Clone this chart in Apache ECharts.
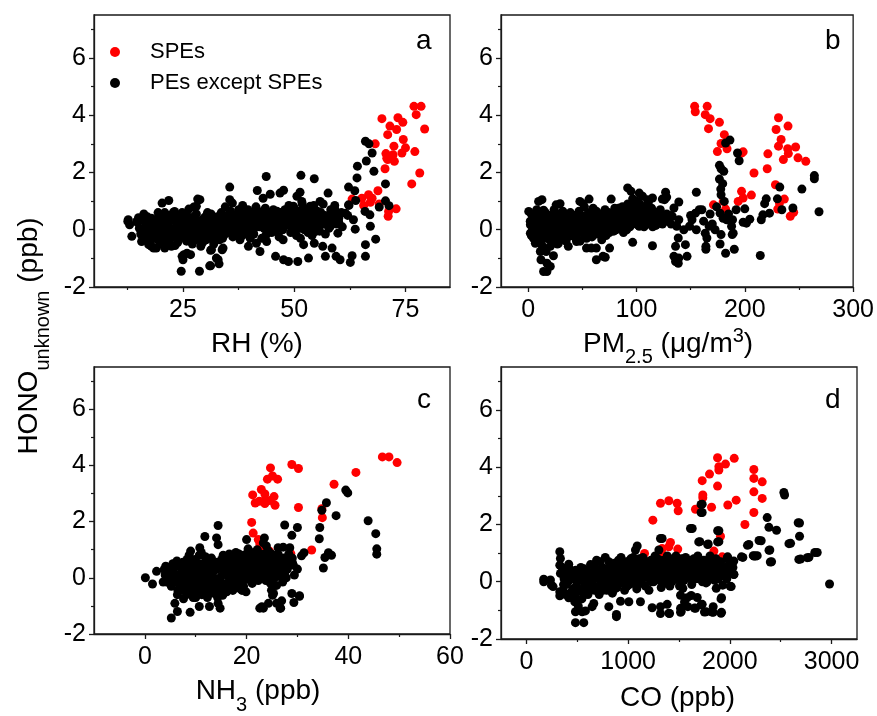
<!DOCTYPE html>
<html>
<head>
<meta charset="utf-8">
<script src="https://cdn.jsdelivr.net/npm/echarts@6/dist/echarts.min.js"></script>
<style>html,body{margin:0;padding:0;background:#fff}#c{width:877px;height:716px}</style>
</head>
<body>
<div id="c"></div>
<script>
// ---------- tick values ----------
const yTicks = [-2, 0, 2, 4, 6];
const yMinor = [-1, 1, 3, 5, 7];
const rhTicks = [25, 50, 75];
const rhMinor = [12.5, 37.5, 62.5];
const pmTicks = [0, 100, 200, 300];
const pmMinor = [50, 150, 250];
const nh3Ticks = [0, 20, 40, 60];
const nh3Minor = [10, 30, 50];
const coTicks = [0, 1000, 2000, 3000];
const coMinor = [500, 1500, 2500];
const seriesNames = ['SPEs', 'PEs except SPEs'];
const panelLetters = ['a', 'b', 'c', 'd'];

// ---------- panel a : RH (%) ----------
const rhSPE = [[76.9,4.31],[78.5,4.31],[77.4,4.02],[79.3,3.52],[69.7,3.88],[73.3,3.91],[74.4,3.75],[71.5,3.62],[73.0,3.50],[71.0,3.32],[74.5,3.15],[68.2,3.0],[72.4,2.92],[75.0,2.86],[74.2,2.68],[70.6,2.66],[72.2,2.62],[70.8,2.5],[72.5,2.39],[77.1,2.73],[70.4,2.13],[78.2,1.98],[76.4,1.6],[68.8,1.36],[66.7,1.22],[67.5,1.1],[65.2,1.1],[63.0,1.07],[67.1,0.96],[65.6,0.85],[69.1,0.9],[71.2,0.64],[71.1,0.47],[72.9,0.73],[71.0,2.45]];
const rhPE = [[43.7,1.86],[35.5,1.49],[41.7,1.37],[44.6,1.24],[43.0,1.1],[21.8,1.02],[20.3,0.93],[28.3,1.07],[27.4,0.79],[26.3,0.72],[35.5,1.05],[36.1,0.93],[12.7,0.35],[13.0,0.17],[14.6,0.29],[13.5,-0.23],[15.7,-0.41],[17.3,-0.52],[18.4,-0.64],[24.6,-1.45],[28.7,-1.45],[31.2,-1.26],[33.1,-1.19],[25.0,-1.05],[25.2,-0.87],[26.7,-0.87],[31.2,-0.72],[33.8,-0.70],[32.5,-0.99],
[51.5,1.9],[54.5,1.78],[47.6,1.38],[46.8,1.28],[51.3,1.31],[57.6,1.28],[62.2,1.49],[63.6,1.36],[64.1,1.81],[64.2,2.22],[66.2,2.4],[67.5,2.68],[66.0,3.09],[66.8,3.0],[67.9,2.04],[70.5,1.6],[70.5,1.01],[71.3,0.84],[69.1,0.79],[62.2,0.87],[63.8,1.02],[65.9,0.64],[67.0,0.52],[67.1,0.12],[68.3,-0.33],[66.0,-0.52],[66.0,-0.93],[62.6,-1.14],[63.0,-0.91],[60.3,-1.05],[59.4,-0.93],[57.0,-0.93],[58.5,-0.64],[56.4,-0.58],[54.5,-0.47],[53.2,-0.99],[50.8,-1.11],[48.7,-1.11],[47.6,-1.05],[45.8,-0.93],[52.1,-0.52],[59.8,-0.12],[63.7,0.02],[63.3,0.35],[59.1,0.72],[61.5,0.58],[60.0,0.26],[58.1,0.12],[54.7,-0.06],[55.5,0.35],[53.6,0.82],[55.8,0.99],[51.7,0.99],[49.8,0.82],[50.6,1.17],[28.8,1.05],[28.0,0.82],[23.1,0.64],[24.6,0.29],[12.6,0.29],[16.0,-0.35],[17.9,-0.58],[19.0,-0.64],[20.9,-0.64],[22.4,-0.58],[24.8,-0.93],[31.0,-1.26],[32.9,-1.05],[31.4,-0.7],[34.0,-0.64],[25.9,-0.82],[29.0,-0.58],[37.8,-0.35],[39.7,-0.58],[42.3,-0.76],[41.5,-0.47],[43.8,-0.41],
[15.2,0.05],[15.0,0.42],[15.5,-0.15],[14.8,0.25],[16.4,-0.3],[16.6,0.1],[16.2,0.55],[16.8,-0.05],[16.3,0.3],[17.8,0.2],[17.6,-0.45],[18.1,0.0],[17.9,0.4],[18.2,-0.2],[19.1,0.1],[19.3,-0.35],[18.9,0.35],[19.4,0.6],[19.0,-0.1],[20.3,-0.5],[20.5,0.0],[20.1,0.25],[20.6,0.45],[20.2,-0.25],[21.7,0.15],[21.5,-0.4],[21.9,0.5],[21.6,-0.1],[22.0,0.3],[22.9,-0.2],[23.1,0.05],[22.7,0.35],[23.2,-0.55],[22.8,0.6],[24.2,0.1],[24.0,-0.3],[24.4,0.45],[24.1,-0.1],[24.5,0.25],[25.6,-0.15],[25.4,0.2],[25.8,-0.4],[25.5,0.05],[25.9,0.5],[26.8,0.0],[27.0,-0.25],[26.6,0.3],[27.1,-0.5],[26.9,0.15],[28.1,0.25],[28.3,-0.1],[27.9,-0.35],[28.4,0.1],[28.0,0.55],[29.5,-0.2],[29.3,0.05],[29.7,0.4],[29.4,-0.45],[29.8,0.2],[30.7,0.3],[30.9,-0.05],[30.5,0.6],[31.0,-0.3],[30.6,0.1],[32.0,0.15],[32.2,-0.25],[31.8,0.45],[32.3,0.0],[31.9,-0.5],[33.3,0.35],[33.5,-0.1],[33.1,0.1],[33.6,0.6],[33.2,-0.35],[34.6,0.2],[34.8,0.5],[34.4,-0.15],[34.9,0.05],[34.5,0.8],[35.9,0.35],[36.1,0.0],[35.7,0.65],[36.2,-0.25],[35.8,0.15],[37.2,0.45],[37.4,0.1],[37.0,-0.1],[37.5,0.7],[37.1,0.25],[38.5,0.3],[38.7,0.55],[38.3,-0.2],[38.8,0.05],[38.4,0.85],[39.8,0.4],[40.0,0.15],[39.6,0.7],[40.1,-0.3],[39.7,0.0],[41.1,0.25],[41.3,0.5],[40.9,-0.15],[41.4,0.8],[41.0,0.05],[42.4,0.35],[42.6,0.6],[42.2,0.1],[42.7,-0.3],[42.3,0.2],[43.7,0.45],[43.9,0.0],[43.5,0.75],[44.0,0.25],[43.6,-0.2],[45.0,0.3],[45.2,0.55],[44.8,0.1],[45.3,0.7],[44.9,-0.1],[46.3,0.4],[46.5,0.2],[46.1,0.65],[46.6,-0.25],[46.2,0.05],[47.6,0.5],[47.8,0.25],[47.4,0.0],[47.9,0.7],[47.5,-0.35],[48.9,0.35],[49.1,0.6],[48.7,0.15],[49.2,-0.1],[48.8,0.85],[50.2,0.45],[50.4,0.2],[50.0,0.75],[50.5,-0.2],[50.1,0.0],[51.5,0.3],[51.7,0.55],[51.3,0.05],[51.8,0.9],[51.4,-0.3],[52.8,0.4],[53.0,0.15],[52.6,0.7],[53.1,-0.1],[52.7,0.25],[54.1,0.2],[54.3,0.55],[53.9,0.0],[54.4,0.85],[54.0,-0.2],[55.4,0.35],[55.6,0.1],[55.2,0.65],[55.7,-0.05],[56.7,0.2],[56.9,0.5],[56.5,0.9],[57.0,-0.15],[58.0,0.3],[58.2,0.7],[57.8,0.05],[59.3,0.45],[59.5,0.2],[59.1,0.85],[60.6,0.6],[60.8,0.1],[62.0,0.5],[62.3,0.85],
[17.1,0.15],[17.2,-0.3],[17.0,0.45],[18.5,-0.25],[18.6,0.2],[18.4,0.05],[19.8,0.2],[19.9,-0.2],[19.7,0.45],[21.0,-0.05],[21.1,0.35],[21.2,-0.35],[20.9,0.6],[22.3,0.0],[22.4,0.4],[22.2,-0.3],[23.6,-0.15],[23.7,0.2],[23.5,0.5],[23.8,-0.45],[24.9,0.0],[25.0,0.35],[25.1,-0.25],[24.8,0.6],[26.2,-0.3],[26.3,0.1],[26.1,0.4],[27.5,0.05],[27.6,-0.2],[27.4,0.45],[28.8,-0.25],[28.9,0.3],[28.7,0.0],[30.1,0.15],[30.2,-0.35],[30.0,0.45],[31.4,-0.1],[31.5,0.25],[31.3,0.55],[32.7,0.2],[32.6,-0.2],[32.8,0.45],[34.0,0.0],[34.1,0.35],[33.9,-0.3],[35.3,0.45],[35.2,0.1],[35.4,-0.1],[36.6,0.2],[36.5,0.5],[36.7,-0.15],[37.9,0.35],[37.8,0.0],[38.0,0.6],[39.2,0.2],[39.1,0.5],[39.3,-0.1],[40.5,0.35],[40.4,0.6],[40.6,0.05],[41.8,0.15],[41.7,0.4],[41.9,0.65],[43.1,0.3],[43.0,0.55],[43.2,0.05],[44.4,0.4],[44.3,0.15],[44.5,0.6],[45.7,0.2],[45.6,0.5],[45.8,-0.05],[47.0,0.35],[46.9,0.6],[47.1,0.1],[48.3,0.45],[48.2,0.2],[48.4,0.7],[49.6,0.3],[49.5,0.55],[49.7,0.05],[50.9,0.4],[50.8,0.15],[51.0,0.65],[52.2,0.25],[52.1,0.5],[52.3,0.0],[53.5,0.35],[53.4,0.6],[54.8,0.45],[54.7,0.2],[56.1,0.3],[56.0,0.6],[57.4,0.45],[58.7,0.55],[60.0,0.4]];

// ---------- panel b : PM2.5 ----------
const pmSPE = [[153.7,4.31],[154.3,4.12],[165.3,4.31],[163.5,4.02],[168.0,3.88],[166.5,3.53],[176.6,3.75],[181.1,3.32],[178.1,3.01],[183.6,2.83],[174.7,2.73],[197.0,2.68],[198.5,2.72],[208.5,1.98],[231.1,3.91],[228.9,3.5],[239.9,3.62],[233.5,3.15],[231.1,2.92],[239.6,2.83],[240.2,2.66],[235.6,2.45],[246.9,2.89],[249.1,2.51],[256.3,2.39],[221.3,2.65],[220.7,2.13],[228.3,1.57],[206.1,1.21],[197.0,1.34],[193.9,0.99],[198.5,1.11],[236.5,1.07],[232.0,0.93],[230.4,0.72],[242.0,0.47],[245.1,0.61],[171.1,0.87],[182.3,0.72],[180.1,0.99]];
const pmPE = [[268.5,0.63],[264.2,1.89],[264.2,1.78],[252.7,1.42],[232.3,1.49],[234.2,0.7],[244.4,0.76],[230.1,1.08],[214.3,-0.9],[219.8,1.08],[218.3,0.91],[216.7,0.52],[222.8,0.58],[215.2,0.35],[204.6,0.37],[201.5,0.23],[198.5,0.26],[200.0,0.73],[182.3,3.03],[186.3,3.13],[193.3,2.68],[194.8,2.41],[176.6,2.25],[178.1,2.13],[180.6,2.04],[176.6,1.77],[179.6,1.61],[177.8,1.42],[178.1,1.22],[181.1,0.99],[177.2,0.58],[183.3,0.35],[188.7,0.35],[187.8,0.12],[189.3,-0.12],[188.4,-0.17],[190.3,-0.68],[182.3,-0.82],[177.2,-0.5],[178.1,-0.17],[172.6,0.0],[167.1,0.12],[163.5,-0.12],[165.0,-0.29],[164.1,-0.58],[164.1,-0.68],[155.3,1.31],[154.4,0.58],[151.3,0.35],[160.4,0.70],[155.3,0.0],[149.0,0.12],[143.7,0.0],[145.2,-0.52],[146.7,-0.93],[139.1,-0.99],[136.1,-1.11],[134.6,-0.93],[138.6,-1.17],[136.1,-0.58],[138.6,-0.29],[137.2,0.12],[139.1,0.35],[139.1,0.97],[134.6,0.76],[133.0,0.47],[126.9,1.31],[127.9,1.14],[123.9,1.07],[114.8,1.11],[114.8,-0.56],[96.5,-0.44],[91.9,1.46],[95.0,1.34],[102.6,1.28],[105.6,1.17],[110.2,1.05],[96.5,1.08],[84.3,0.76],[76.7,1.07],[69.1,-0.93],[63.0,-1.05],[71.2,-0.96],[58.4,-0.64],[63.0,-0.64],[53.9,-0.64],[75.2,-0.64],[47.8,0.99],[56.3,1.07],[50.8,0.91],[37.1,-0.58],[28.0,-0.47],[25.0,-0.06],[25.9,0.87],[29.5,0.91],[12.8,1.05],[9.7,0.99],[14.3,0.68],[0.6,0.64],[2.1,0.17],[2.1,-0.12],[6.7,-0.03],[6.7,-0.47],[11.3,-0.35],[11.3,-0.76],[11.9,-1.05],[14.3,-1.46],[17.4,-1.46],[20.5,-1.28],[17.4,-1.17],[23.4,-0.91],[16.7,-0.76],[20.5,-0.58],[14.3,-0.21],[5.2,0.35],[9.7,0.21],[34.1,-0.12],[47.8,0.0],[44.7,-0.41],[63.0,-0.12],[81.3,0.0],[88.9,0.0],[102.6,0.12],[114.8,0.23],[120.9,0.47],
[3,-0.2],[2,0.3],[4,0.0],[3,0.55],[7,-0.4],[8,0.1],[6,-0.1],[7,0.45],[8,0.7],[11,0.2],[12,-0.5],[10,0.0],[11,0.5],[12,-0.25],[15,-0.1],[16,0.35],[14,-0.6],[15,0.1],[16,0.6],[19,0.0],[20,-0.35],[18,0.3],[19,-0.15],[20,0.5],[23,0.15],[24,-0.45],[22,0.4],[23,-0.1],[24,0.7],[27,-0.2],[28,0.05],[26,0.35],[27,-0.5],[28,0.55],[31,0.1],[32,-0.3],[30,0.3],[31,0.0],[32,0.65],[35,-0.15],[36,0.2],[34,0.45],[35,-0.4],[36,0.05],[39,0.1],[40,-0.2],[38,0.35],[39,0.6],[40,-0.05],[43,0.25],[44,-0.3],[42,0.0],[43,0.5],[44,0.15],[47,-0.1],[48,0.3],[46,0.05],[47,0.65],[48,-0.4],[51,0.2],[52,-0.2],[50,0.45],[51,0.0],[52,0.8],[55,0.1],[56,0.35],[54,-0.3],[55,0.55],[56,-0.05],[59,0.25],[60,0.0],[58,0.5],[59,-0.25],[60,0.75],[63,0.15],[64,-0.15],[62,0.4],[63,0.65],[64,0.05],[67,0.3],[68,-0.1],[66,0.55],[67,0.1],[68,-0.35],[71,0.2],[72,0.45],[70,0.0],[71,0.7],[72,-0.2],[75,0.35],[76,0.1],[74,0.6],[75,-0.1],[76,0.25],[79,0.15],[80,0.5],[78,0.3],[79,-0.05],[80,0.75],[83,0.4],[84,0.05],[82,0.6],[83,0.2],[87,0.25],[88,0.55],[86,0.1],[87,0.8],[88,-0.1],[91,0.4],[92,0.2],[90,0.65],[91,0.0],[92,0.9],[95,0.3],[96,0.55],[94,0.1],[95,0.8],[96,0.45],[99,0.5],[100,0.2],[98,0.75],[99,0.35],[100,1.0],[103,0.4],[104,0.65],[102,0.15],[103,0.9],[104,0.3],[107,0.55],[108,0.3],[106,0.8],[107,0.1],[108,0.45],[111,0.4],[112,0.7],[110,0.2],[111,0.95],[115,0.5],[116,0.25],[114,0.75],[115,0.1],[119,0.35],[120,0.6],[118,0.15],[123,0.45],[124,0.2],[122,0.7],[127,0.3],[128,0.55],[126,1.05],[131,0.5],[132,0.2],[150,0.5],[158,0.7],[162,0.3],[168,0.55],[174,0.8],[170,0.2],[185,0.55],[192,0.7],[180,0.4],
[5,0.2],[5,-0.3],[9,0.3],[9,-0.2],[13,0.0],[13,0.4],[17,0.15],[17,-0.3],[21,0.2],[21,-0.2],[25,0.0],[25,0.5],[29,0.25],[29,-0.3],[33,0.0],[33,0.45],[37,0.25],[37,-0.25],[41,0.05],[41,0.4],[45,0.3],[45,-0.15],[49,0.1],[49,0.5],[53,0.3],[53,-0.1],[57,0.15],[57,0.6],[61,0.3],[61,-0.1],[65,0.2],[65,0.5],[69,0.35],[69,0.0],[73,0.25],[73,0.6],[77,0.4],[77,0.0],[81,0.25],[81,0.6],[85,0.4],[85,0.1],[89,0.3],[89,0.65],[93,0.5],[93,0.2],[97,0.35],[97,0.65],[101,0.55],[101,0.25],[105,0.45],[105,0.75],[109,0.35],[109,0.6],[113,0.5],[117,0.4],[121,0.55],[125,0.35]];

// ---------- panel c : NH3 ----------
const nh3SPE = [[46.7,4.30],[48.0,4.30],[49.6,4.10],[41.5,3.75],[37.2,3.33],[28.9,4.03],[30.2,3.89],[24.7,3.91],[24.1,3.51],[25.1,3.62],[26.1,3.51],[22.9,3.14],[23.6,2.98],[21.2,2.95],[21.7,2.66],[22.5,2.72],[23.6,2.75],[23.6,2.64],[24.6,2.75],[25.4,2.89],[25.6,2.58],[30.2,2.50],[34.8,2.46],[34.9,2.14],[21.0,1.97],[21.3,1.59],[22.3,1.36],[32.8,0.99],[28.7,0.86],[23.9,0.49],[23.1,1.13],[24.5,0.95],[25.2,0.7],[22.6,1.2]];
const nh3PE = [[0.1,0.0],[1.5,-0.22],[2.3,0.23],[4.1,0.41],[3.6,-0.15],[5.2,-1.43],[6.4,-1.2],[5.9,-0.91],[8.9,-1.23],[10.7,-1.02],[12.7,-1.02],[14.8,-1.08],[14.4,-0.91],[11.8,1.47],[14.4,1.86],[14.1,1.42],[14.4,1.18],[9.0,0.95],[10.8,1.07],[20.0,1.36],[20.3,1.03],[23.5,1.42],[23.3,1.24],[23.9,1.13],[27.5,1.88],[28.9,1.51],[30.0,1.79],[28.5,1.07],[27.2,1.09],[26.2,1.07],[29.0,0.55],[30.0,0.31],[30.8,0.78],[31.3,0.89],[28.9,-0.56],[30.4,-0.64],[29.3,-0.88],[26.9,-0.82],[26.7,-1.08],[25.9,-0.91],[25.1,-0.62],[24.3,-0.91],[23.3,-1.08],[22.6,-1.08],[25.9,-0.27],[24.9,-0.44],[19.9,-0.5],[18.7,-0.38],[15.3,-0.62],[14.1,-0.56],[35.1,0.35],[35.4,0.72],[36.1,0.89],[36.7,0.8],[34.3,1.39],[34.4,1.79],[34.8,2.4],[35.7,2.67],[37.6,2.21],[39.5,3.12],[39.9,3.02],[43.9,2.03],[45.4,1.57],[45.6,1.03],[45.6,0.84],[23.0,-1.03],[26.6,-1.08],[30.4,-0.66],[25.3,-0.56],
[4.0,0.1],[4.3,-0.15],[3.8,0.3],[5.2,-0.3],[5.4,0.0],[5.0,0.25],[5.5,0.5],[6.4,-0.6],[6.6,-0.2],[6.2,0.1],[6.7,0.4],[6.3,0.6],[6.5,-0.45],[7.6,-0.75],[7.8,-0.35],[7.4,0.0],[7.9,0.3],[7.5,0.55],[7.7,-0.1],[8.8,-0.5],[9.0,-0.15],[8.6,0.2],[9.1,0.45],[8.7,0.8],[8.9,0.05],[10.0,-0.7],[10.2,-0.3],[9.8,0.0],[10.3,0.35],[9.9,0.65],[10.1,0.15],[10.0,-0.5],[11.2,-0.6],[11.4,-0.2],[11.0,0.1],[11.5,0.4],[11.1,0.9],[11.3,-0.4],[11.2,0.25],[12.4,-0.35],[12.6,0.0],[12.2,0.3],[12.7,0.6],[12.3,-0.7],[12.5,0.15],[13.6,-0.55],[13.8,-0.15],[13.4,0.2],[13.9,0.5],[13.5,0.0],[13.7,-0.3],[14.8,-0.4],[15.0,0.05],[14.6,0.35],[15.1,0.65],[14.7,-0.15],[16.0,-0.3],[16.2,0.1],[15.8,0.4],[16.3,0.2],[15.9,0.6],[16.1,-0.5],[17.2,-0.2],[17.4,0.25],[17.0,0.5],[17.5,0.0],[17.1,0.75],[17.3,-0.45],[18.4,0.1],[18.6,0.4],[18.2,-0.1],[18.7,0.65],[18.3,0.25],[18.5,0.85],[19.6,0.2],[19.8,0.5],[19.4,-0.3],[19.9,0.0],[19.5,0.8],[19.7,0.35],[20.8,0.3],[21.0,0.05],[20.6,0.6],[21.1,-0.2],[20.7,0.45],[20.9,0.9],[22.0,0.15],[22.2,0.5],[21.8,0.75],[22.3,-0.1],[21.9,0.3],[22.1,1.0],[23.2,0.25],[23.4,0.6],[23.0,0.0],[23.5,0.85],[23.1,0.4],[24.4,0.35],[24.6,0.05],[24.2,0.7],[24.7,-0.2],[24.3,0.95],[25.6,0.2],[25.8,0.55],[25.4,0.0],[25.9,0.8],[25.5,0.35],[26.8,0.4],[27.0,0.1],[26.6,0.65],[27.1,-0.15],[26.7,0.25],[28.0,0.3],[28.2,0.6],[27.8,0.0],[28.3,0.85],[29.2,0.45],[29.4,0.1],[29.0,0.7],
[5.8,0.15],[5.9,-0.1],[5.7,0.4],[7.0,-0.45],[7.1,0.15],[7.0,0.4],[6.9,-0.1],[8.2,-0.6],[8.3,-0.25],[8.1,0.1],[8.2,0.4],[8.3,0.65],[9.4,-0.4],[9.5,-0.05],[9.3,0.3],[9.4,0.6],[9.5,-0.7],[10.6,-0.5],[10.7,-0.15],[10.5,0.2],[10.6,0.5],[10.7,0.8],[11.8,-0.45],[11.9,-0.05],[11.7,0.2],[11.8,0.55],[11.9,0.75],[13.0,-0.5],[13.1,-0.2],[12.9,0.1],[13.0,0.4],[13.1,0.7],[14.2,-0.4],[14.3,-0.05],[14.1,0.3],[14.2,0.55],[14.3,-0.7],[15.4,-0.2],[15.5,0.15],[15.3,0.5],[15.4,0.8],[15.5,-0.55],[16.6,-0.1],[16.7,0.3],[16.5,0.55],[16.6,0.85],[16.7,-0.35],[17.8,0.05],[17.9,0.35],[17.7,0.6],[17.8,-0.3],[17.9,0.9],[19.0,0.15],[19.1,0.45],[18.9,0.7],[19.0,-0.15],[19.1,-0.45],[20.2,0.1],[20.3,0.4],[20.1,0.7],[20.2,-0.05],[20.3,0.95],[21.4,0.2],[21.5,0.5],[21.3,0.75],[21.4,-0.05],[22.6,0.3],[22.7,0.6],[22.5,0.05],[22.6,0.85],[23.8,0.15],[23.9,0.5],[23.7,0.75],[23.8,-0.1],[25.0,0.25],[25.1,0.55],[24.9,0.85],[25.0,0.0],[26.2,0.3],[26.3,0.6],[26.1,0.05],[26.2,0.85],[27.4,0.45],[27.5,0.2],[27.3,0.7]];

// ---------- panel d : CO ----------
const coSPE = [[1879,4.33],[2043,4.31],[1957,4.11],[1892,4.02],[1892,3.9],[1800,3.76],[2236,3.92],[2236,3.61],[2318,3.49],[1728,3.53],[1879,3.34],[2236,3.14],[2318,2.91],[1734,3.03],[1734,2.93],[1318,2.74],[1400,2.83],[1482,2.74],[1492,2.48],[1662,2.53],[1820,2.6],[1980,2.68],[2062,2.85],[2236,2.42],[2148,2.0],[1243,2.15],[1908,1.59],[1161,0.99],[1416,1.37],[1400,1.22],[1488,1.14],[1334,0.95],[1334,1.16],[1843,1.07],[1675,0.61],[1675,0.47],[1925,0.87],[1652,0.6]];
const coPE = [[2980,-0.08],[2531,3.12],[2538,3.03],[2685,2.05],[2685,1.59],[2695,0.79],[2777,0.85],[2859,1.02],[2597,1.34],[2459,1.80],[2384,1.9],[2367,2.24],[2308,1.43],[2393,1.11],[2410,0.70],[2230,0.91],[2269,0.91],[2187,1.30],[2128,0.85],[1728,2.71],[1728,2.42],[1630,1.86],[1892,1.78],[1892,1.40],[1705,1.40],[1787,1.32],[1318,1.51],[1334,1.51],[1302,1.11],[1089,1.25],[1072,1.11],[328,1.05],[334,0.81],[328,0.58],[416,0.61],[334,0.29],[328,-0.35],[328,-0.49],[416,-0.56],[170,0.09],[170,0.0],[236,0.06],[246,-0.12],[262,-0.17],[482,-1.05],[482,-1.43],[564,-1.43],[548,-1.05],[580,-1.02],[646,-0.87],[662,-0.76],[810,-0.87],[885,-1.22],[885,-1.14],[925,-0.68],[1007,-0.70],[1121,-0.70],[1236,-0.91],[1318,-0.87],[1318,-1.11],[1407,-1.11],[1384,-0.79],[1515,-1.07],[1515,-0.93],[1587,-0.87],[1662,-0.93],[1728,-0.79],[1767,-1.05],[1836,-1.07],[1918,-1.07],[1836,-0.87],[1918,-0.56],[1679,-0.55],[1580,-0.56],[1515,-0.47],[1538,-0.23],[1777,0.0],[1866,-0.23],[1930,-0.12],[2013,-0.17],[2039,0.26],[2007,0.58],[2039,0.72],[1974,0.81],[1957,0.41],[2672,2.06],[2581,1.33],[2760,0.84],[2835,1.02],[2678,0.78],[2385,1.1],[2398,0.69],[2287,1.44],[2173,1.27],[2238,0.9],[2254,0.9],[2114,0.87],[1880,1.78],[1880,1.39],[1717,2.7],[1717,2.42],[1613,1.86],[1694,1.39],[1782,1.3],[1913,-0.6],[1766,-0.04],[1913,-1.1],[1825,-1.06],[1750,-1.06],[1652,-0.92],[1717,-0.81],[1522,-1.04],[1401,-1.1],[1554,-0.71],[1620,-0.48],[2004,-0.16],[1978,0.87],
[360,-0.3],[370,0.1],[350,0.5],[365,-0.1],[420,0.2],[430,-0.4],[410,0.0],[425,0.45],[480,-0.5],[490,-0.15],[470,0.15],[485,0.4],[475,-0.7],[540,0.05],[550,-0.35],[530,0.3],[545,-0.6],[535,0.5],[600,-0.2],[610,0.15],[590,0.4],[605,-0.45],[595,0.0],[660,0.25],[670,-0.3],[650,0.05],[665,0.55],[655,-0.1],[720,-0.15],[730,0.3],[710,0.1],[725,0.7],[715,-0.45],[780,0.05],[790,-0.3],[770,0.4],[785,0.2],[775,0.85],[840,0.3],[850,-0.1],[830,0.55],[845,-0.4],[835,0.1],[900,0.15],[910,0.45],[890,-0.2],[905,0.75],[895,0.0],[960,0.35],[970,0.05],[950,0.6],[965,-0.3],[955,0.2],[1020,0.1],[1030,0.5],[1010,-0.1],[1025,0.8],[1015,0.3],[1080,0.4],[1090,0.15],[1070,0.65],[1085,-0.25],[1075,0.0],[1140,0.25],[1150,0.55],[1130,-0.05],[1145,0.85],[1135,0.1],[1200,0.4],[1210,0.1],[1190,0.7],[1205,-0.3],[1195,0.2],[1260,0.3],[1270,0.6],[1250,0.0],[1265,0.9],[1255,0.15],[1320,0.45],[1330,0.2],[1310,0.75],[1325,-0.2],[1315,0.05],[1380,0.35],[1390,0.6],[1370,0.1],[1385,0.9],[1375,-0.05],[1440,0.25],[1450,0.5],[1430,0.0],[1445,0.8],[1435,0.4],[1500,0.4],[1510,0.15],[1490,0.7],[1505,-0.15],[1495,0.3],[1560,0.3],[1570,0.6],[1550,0.05],[1565,0.85],[1620,0.45],[1630,0.2],[1610,0.75],[1625,-0.1],[1680,0.35],[1690,0.6],[1670,0.1],[1685,0.9],[1740,0.5],[1750,0.25],[1730,0.0],[1745,0.75],[1800,0.4],[1810,0.65],[1790,0.15],[1805,0.9],[1860,0.3],[1870,0.55],[1850,0.05],[1865,0.8],[1920,0.45],[1930,0.2],[1910,0.7],[1980,0.35],[1990,0.6],[1970,0.1],[2030,0.5],[2040,0.25],
[390,-0.1],[395,0.3],[385,-0.45],[450,0.1],[455,-0.25],[445,0.35],[450,-0.55],[510,-0.3],[515,0.05],[505,0.3],[510,-0.85],[570,-0.15],[575,0.2],[565,0.45],[570,-0.45],[630,0.0],[635,0.3],[625,-0.3],[630,0.6],[690,-0.2],[695,0.15],[685,0.4],[690,0.75],[750,0.0],[755,0.25],[745,0.5],[750,-0.3],[810,0.15],[815,0.5],[805,-0.15],[810,0.7],[870,0.05],[875,0.35],[865,0.65],[870,-0.25],[930,0.25],[935,0.55],[925,-0.05],[930,0.85],[990,0.15],[995,0.45],[985,0.7],[990,-0.15],[1050,0.25],[1055,0.6],[1045,-0.05],[1050,0.85],[1110,0.3],[1115,0.55],[1105,0.05],[1110,0.8],[1170,0.4],[1175,0.65],[1165,0.15],[1170,-0.15],[1230,0.25],[1235,0.5],[1225,0.75],[1230,0.0],[1290,0.35],[1295,0.6],[1285,0.1],[1290,0.8],[1350,0.25],[1355,0.5],[1345,0.0],[1350,0.75],[1410,0.4],[1415,0.15],[1405,0.7],[1410,-0.15],[1470,0.35],[1475,0.6],[1465,0.1],[1470,0.9],[1530,0.25],[1535,0.5],[1525,0.8],[1530,0.0],[1590,0.4],[1595,0.15],[1585,0.65],[1650,0.3],[1655,0.55],[1645,0.8],[1710,0.45],[1715,0.2],[1705,0.7],[1770,0.35],[1775,0.6],[1765,0.1],[1830,0.5],[1835,0.25],[1825,0.75],[1890,0.35],[1895,0.6],[1885,0.1],[1950,0.5],[1955,0.25]];

// ---------- build chart ----------
const FF = '"Liberation Sans", Arial, Helvetica, sans-serif';
const INK = '#1a1a1a';
const rich = {
  n:   { fontSize: 28, fontFamily: FF, color: '#000', lineHeight: 32, verticalAlign: 'top', padding: [6, 0, 0, 0] },
  sub: { fontSize: 20, fontFamily: FF, color: '#000', lineHeight: 20, verticalAlign: 'top', padding: [24, 0, 0, 0] },
  sup: { fontSize: 20, fontFamily: FF, color: '#000', lineHeight: 20, verticalAlign: 'top', padding: [3, 0, 0, 0] }
};
const grids = [
  { left: 94, top: 15, width: 356, height: 272 },
  { left: 501, top: 15, width: 356, height: 272 },
  { left: 94, top: 367, width: 356, height: 272 },
  { left: 501, top: 367, width: 356, height: 272 }
];
const panels = [
  { min: 5, max: 85, ticks: rhTicks, minor: rhMinor, name: '{n|RH (%)}', pad: [0, 30, 0, 0], gap: 32, red: rhSPE, black: rhPE },
  { min: -25, max: 300, ticks: pmTicks, minor: pmMinor, name: '{n|PM}{sub|2.5}{n| (μg/m}{sup|3}{n|)}', pad: [0, 18, 0, 0], gap: 32, red: pmSPE, black: pmPE },
  { min: -10, max: 60, ticks: nh3Ticks, minor: nh3Minor, name: '{n|NH}{sub|3}{n| (ppb)}', pad: [0, 28, 0, 0], gap: 37, red: nh3SPE, black: nh3PE },
  { min: -250, max: 3250, ticks: coTicks, minor: coMinor, name: '{n|CO (ppb)}', pad: [0, 3, 0, 0], gap: 39, red: coSPE, black: coPE }
];
const fmt = v => String(v);

const xAxis = [], yAxis = [], series = [];
panels.forEach((p, i) => {
  xAxis.push({
    gridIndex: i, type: 'value', min: p.min, max: p.max, position: 'bottom',
    axisLine: { show: true, onZero: false, lineStyle: { color: INK, width: 1.3 } },
    axisTick: { show: true, inside: false, length: 5, customValues: p.ticks, lineStyle: { color: INK, width: 1.3 } },
    axisLabel: { show: true, customValues: p.ticks, formatter: fmt, fontSize: 25, fontFamily: FF, color: '#000', margin: 11, hideOverlap: false },
    splitLine: { show: false },
    name: p.name, nameLocation: 'middle', nameGap: p.gap,
    nameTextStyle: { rich: rich, padding: p.pad }
  });
  yAxis.push({
    gridIndex: i, type: 'value', min: -2, max: 7.5, position: 'left',
    axisLine: { show: true, onZero: false, lineStyle: { color: INK, width: 1.3 } },
    axisTick: { show: true, inside: false, length: 5, customValues: yTicks, lineStyle: { color: INK, width: 1.3 } },
    axisLabel: { show: true, customValues: yTicks, formatter: fmt, fontSize: 25, fontFamily: FF, color: '#000', margin: 8 },
    splitLine: { show: false }
  });
  series.push({
    name: seriesNames[0], type: 'scatter', xAxisIndex: i, yAxisIndex: i,
    symbol: 'circle', symbolSize: 9, data: p.red,
    itemStyle: { color: '#ff0000', opacity: 1 }
  });
  series.push({
    name: seriesNames[1], type: 'scatter', xAxisIndex: i, yAxisIndex: i,
    symbol: 'circle', symbolSize: 9, data: p.black,
    itemStyle: { color: '#000000', opacity: 1 }
  });
});
// minor tick axes (overlaid on the main axes)
panels.forEach((p, i) => {
  xAxis.push({
    gridIndex: i, type: 'value', min: p.min, max: p.max, position: 'bottom',
    axisLine: { show: false, onZero: false }, axisLabel: { show: false }, splitLine: { show: false },
    axisTick: { show: true, inside: false, length: 3, customValues: p.minor, lineStyle: { color: INK, width: 1.2 } }
  });
  yAxis.push({
    gridIndex: i, type: 'value', min: -2, max: 7.5, position: 'left',
    axisLine: { show: false, onZero: false }, axisLabel: { show: false }, splitLine: { show: false },
    axisTick: { show: true, inside: false, length: 3, customValues: yMinor, lineStyle: { color: INK, width: 1.2 } }
  });
});

const letterPos = [[416, 41], [825, 41], [417, 400], [825, 400]];
const graphic = panelLetters.map((t, i) => ({
  type: 'text', x: letterPos[i][0], y: letterPos[i][1], silent: true,
  style: { text: t, fontSize: 28, fontFamily: FF, fill: '#000', align: 'left', verticalAlign: 'middle' }
}));
graphic.push({
  type: 'text', x: 25, y: 336, rotation: Math.PI / 2, silent: true,
  style: {
    text: '{n|HONO}{sub|unknown}{n| (ppb)}', rich: rich,
    align: 'center', verticalAlign: 'middle'
  }
});

const chart = echarts.init(document.getElementById('c'), null, { renderer: 'canvas' });
chart.setOption({
  animation: false,
  backgroundColor: '#ffffff',
  grid: grids.map(g => Object.assign({ show: true, borderColor: INK, borderWidth: 1.3, backgroundColor: 'transparent', containLabel: false }, g)),
  xAxis: xAxis,
  yAxis: yAxis,
  legend: {
    data: seriesNames, orient: 'vertical', left: 105, top: 34,
    icon: 'circle', itemWidth: 10, itemHeight: 10, itemGap: 5,
    selectedMode: false,
    textStyle: { fontSize: 22, fontFamily: FF, color: '#000', lineHeight: 26, padding: [0, 0, 0, 25] }
  },
  graphic: graphic,
  series: series
});
</script>
</body>
</html>
